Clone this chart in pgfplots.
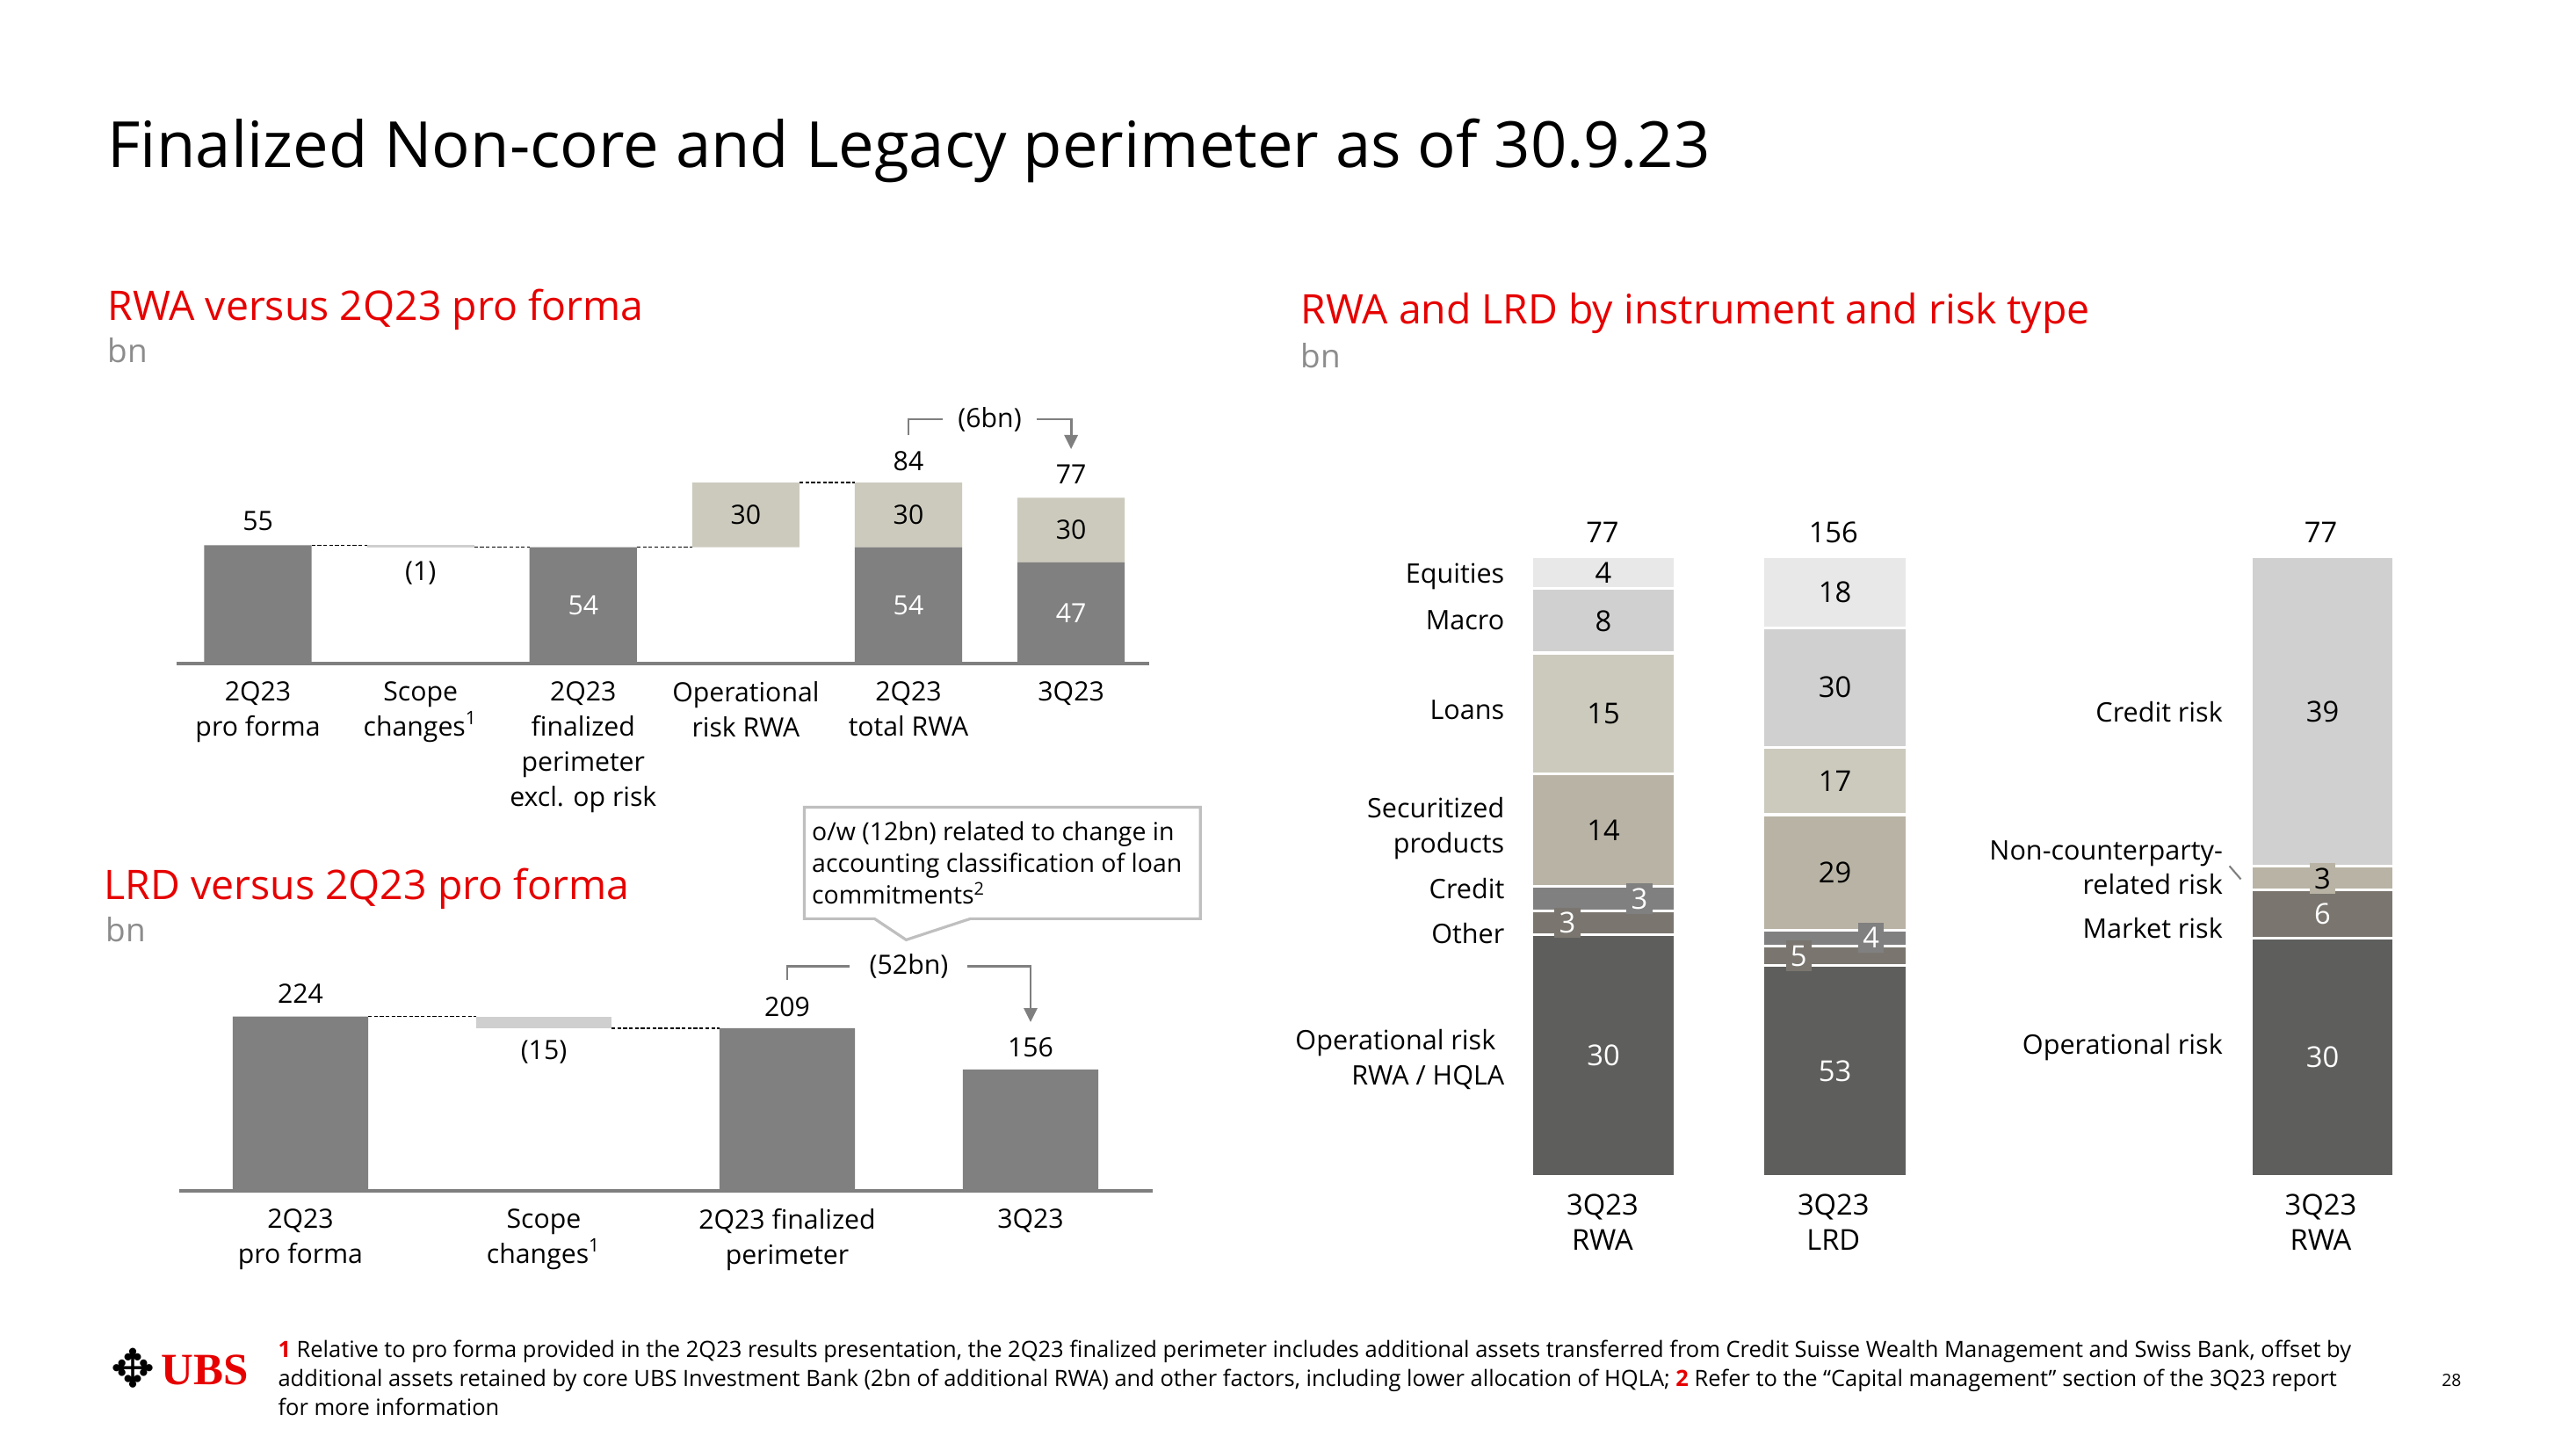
\documentclass[border=0pt]{standalone}
\usepackage{pgfplots}
\pgfplotsset{compat=1.18}
\usetikzlibrary{arrows.meta}
\usepackage{fontspec}
\setmainfont{Open Sans}
\newfontfamily\symfont{DejaVu Sans}
\newfontfamily\logofont{Liberation Serif}

\definecolor{ubsred}{HTML}{E60000}
\definecolor{bargray}{HTML}{808080}
\definecolor{beige}{HTML}{CCCABD}
\definecolor{scopegray}{HTML}{CFCFCF}
\definecolor{eqc}{HTML}{E8E8E8}
\definecolor{macroc}{HTML}{D0D0D0}
\definecolor{loansc}{HTML}{CCCABD}
\definecolor{securc}{HTML}{B8B3A4}
\definecolor{creditc}{HTML}{808080}
\definecolor{otherc}{HTML}{7A766F}
\definecolor{opc}{HTML}{5E5F5D}
\definecolor{bngray}{HTML}{8C8C8C}
\definecolor{linegray}{HTML}{7F7F7F}
\definecolor{boxgray}{HTML}{BFBFBF}

\newcommand{\lbl}{\fontsize{8.6}{11.4}\selectfont}
\newcommand{\rlbl}{\fontsize{9.3}{11.4}\selectfont}
\newcommand{\rtxt}{\fontsize{8.7}{11.4}\selectfont}

\pgfplotsset{
  wf/.style={anchor=south west, scale only axis, ymin=0, ybar stacked, clip=false,
    axis x line=bottom, axis y line=none, x axis line style={-, draw=linegray, line width=0.9pt},
    major tick length=0pt, enlargelimits=false,
    xticklabel style={align=center, anchor=north, inner sep=0pt, yshift=-0.2cm, font=\lbl}},
  rb/.style={anchor=south west, scale only axis, height=7.055cm, xmin=-0.5, xmax=0.5, ymin=0,
    hide axis, clip=false, ybar stacked, bar width=1},
  seg/.style={fill=#1, draw=white, line width=0.9pt},
}
\tikzset{
  dashc/.style={dash pattern=on 1.2pt off 0.7pt, line width=0.4pt},
  brk/.style={linegray, line width=0.8pt},
  brkarr/.style={linegray, line width=0.8pt, -{Triangle[length=1.6mm,width=1.5mm]}},
}

\begin{document}
\begin{tikzpicture}
\fill[white] (0,0) rectangle (29.32,16.5);
\path[use as bounding box] (0,0) rectangle (29.32,16.5);

% RWA versus 2Q23 pro forma
\begin{axis}[wf, at={(2.01cm,8.95cm)}, width=11.07cm, height=2.94cm,
  xmin=-0.5, xmax=5.48, ymax=120, bar width=0.66, xtick={0,...,5},
  xticklabels={{2Q23\\pro forma},{Scope\\changes\textsuperscript{1}},{2Q23\\finalized\\perimeter\\excl. op risk},{Operational\\risk RWA},{2Q23\\total RWA},{3Q23}},
  after end axis/.code={
    \draw[dashc] (axis cs:0.33,55) -- (axis cs:0.67,55);
    \draw[dashc] (axis cs:1.33,54) -- (axis cs:1.67,54);
    \draw[dashc] (axis cs:2.33,54) -- (axis cs:2.67,54);
    \draw[dashc] (axis cs:3.33,84) -- (axis cs:3.67,84);
    \node[font=\lbl] at (axis cs:0,66) {55};
    \node[font=\lbl] at (axis cs:1,42) {(1)};
    \node[font=\lbl, white] at (axis cs:2,27) {54};
    \node[font=\lbl] at (axis cs:3,69) {30};
    \node[font=\lbl] at (axis cs:4,94) {84};
    \node[font=\lbl] at (axis cs:4,69) {30};
    \node[font=\lbl, white] at (axis cs:4,27) {54};
    \node[font=\lbl] at (axis cs:5,88) {77};
    \node[font=\lbl] at (axis cs:5,62) {30};
    \node[font=\lbl, white] at (axis cs:5,23.5) {47};
    \draw[brk] (axis cs:4,106) |- (axis cs:4.21,113.5);
    \draw[brkarr] (axis cs:4.79,113.5) -- (axis cs:5,113.5) -- (axis cs:5,99.6);
    \node[font=\lbl] at (axis cs:4.5,113.5) {(6bn)};
  }]
\addplot[fill=none, draw=none, forget plot] coordinates {(0,0) (1,54) (2,0) (3,54) (4,0) (5,0)};
\addplot[fill=bargray, draw=none] coordinates {(0,55) (1,0) (2,54) (3,0) (4,54) (5,47)};
\addplot[fill=scopegray, draw=none] coordinates {(0,0) (1,1) (2,0) (3,0) (4,0) (5,0)};
\addplot[fill=beige, draw=none] coordinates {(0,0) (1,0) (2,0) (3,30) (4,30) (5,30)};
\end{axis}

% LRD versus 2Q23 pro forma
\begin{axis}[wf, at={(2.035cm,2.95cm)}, width=11.08cm, height=2.658cm,
  xmin=-0.5, xmax=3.5, ymax=300, bar width=0.556, xtick={0,...,3},
  xticklabels={{2Q23\\pro forma},{Scope\\changes\textsuperscript{1}},{2Q23 finalized\\perimeter},{3Q23}},
  after end axis/.code={
    \draw[dashc] (axis cs:0.278,224) -- (axis cs:0.722,224);
    \draw[dashc] (axis cs:1.278,209) -- (axis cs:1.722,209);
    \node[font=\lbl] at (axis cs:0,253) {224};
    \node[font=\lbl] at (axis cs:1,178) {(15)};
    \node[font=\lbl] at (axis cs:2,236.5) {209};
    \node[font=\lbl] at (axis cs:3,184) {156};
    \draw[brk] (axis cs:2,271) |- (axis cs:2.255,288.3);
    \draw[brkarr] (axis cs:2.74,288.3) -- (axis cs:3,288.3) -- (axis cs:3,216.7);
    \node[font=\lbl] at (axis cs:2.5,288.3) {(52bn)};
  }]
\addplot[fill=none, draw=none, forget plot] coordinates {(0,0) (1,209) (2,0) (3,0)};
\addplot[fill=bargray, draw=none] coordinates {(0,224) (1,0) (2,209) (3,156)};
\addplot[fill=scopegray, draw=none] coordinates {(0,0) (1,15) (2,0) (3,0)};
\end{axis}

% RWA by instrument
\begin{axis}[rb, at={(17.43cm,3.115cm)}, width=1.64cm, ymax=77,
  after end axis/.code={
    \node[font=\rlbl, white] at (axis cs:0,15) {30};
    \node[font=\rlbl, white, fill=otherc, inner sep=1.5pt] at (axis cs:-0.25,31.5) {3};
    \node[font=\rlbl, white, fill=creditc, inner sep=1.5pt] at (axis cs:0.25,34.5) {3};
    \node[font=\rlbl] at (axis cs:0,43) {14};
    \node[font=\rlbl] at (axis cs:0,57.5) {15};
    \node[font=\rlbl] at (axis cs:0,69) {8};
    \node[font=\rlbl] at (axis cs:0,75) {4};
  }]
\addplot[seg=opc] coordinates {(0,30)};
\addplot[seg=otherc] coordinates {(0,3)};
\addplot[seg=creditc] coordinates {(0,3)};
\addplot[seg=securc] coordinates {(0,14)};
\addplot[seg=loansc] coordinates {(0,15)};
\addplot[seg=macroc] coordinates {(0,8)};
\addplot[seg=eqc] coordinates {(0,4)};
\end{axis}

% LRD by instrument
\begin{axis}[rb, at={(20.06cm,3.115cm)}, width=1.65cm, ymax=156,
  after end axis/.code={
    \node[font=\rlbl, white] at (axis cs:0,26.5) {53};
    \node[font=\rlbl, white, fill=otherc, inner sep=1.5pt] at (axis cs:-0.25,55.5) {5};
    \node[font=\rlbl, white, fill=creditc, inner sep=1.5pt] at (axis cs:0.25,60) {4};
    \node[font=\rlbl] at (axis cs:0,76.5) {29};
    \node[font=\rlbl] at (axis cs:0,99.5) {17};
    \node[font=\rlbl] at (axis cs:0,123) {30};
    \node[font=\rlbl] at (axis cs:0,147) {18};
  }]
\addplot[seg=opc] coordinates {(0,53)};
\addplot[seg=otherc] coordinates {(0,5)};
\addplot[seg=creditc] coordinates {(0,4)};
\addplot[seg=securc] coordinates {(0,29)};
\addplot[seg=loansc] coordinates {(0,17)};
\addplot[seg=macroc] coordinates {(0,30)};
\addplot[seg=eqc] coordinates {(0,18)};
\end{axis}

% RWA by risk type
\begin{axis}[rb, at={(25.62cm,3.115cm)}, width=1.63cm, ymax=78,
  after end axis/.code={
    \node[font=\rlbl, white] at (axis cs:0,15) {30};
    \node[font=\rlbl, white] at (axis cs:0,33) {6};
    \node[font=\rlbl, fill=securc, inner sep=1.5pt] at (axis cs:0,37.5) {3};
    \node[font=\rlbl] at (axis cs:0,58.5) {39};
  }]
\addplot[seg=opc] coordinates {(0,30)};
\addplot[seg=otherc] coordinates {(0,6)};
\addplot[seg=securc] coordinates {(0,3)};
\addplot[seg=macroc] coordinates {(0,39)};
\end{axis}

\begin{scope}[x=0.01cm, y=-0.01cm, yshift=16.5cm, every node/.style={inner sep=0pt}]
\node[anchor=base west, font=\fontsize{20.6}{24}\selectfont] at (122,191) {Finalized Non-core and Legacy perimeter as of 30.9.23};
\node[anchor=base west, font=\fontsize{13.2}{16}\selectfont, text=ubsred] at (122,365) {RWA versus 2Q23 pro forma};
\node[anchor=base west, font=\fontsize{10.5}{12}\selectfont, text=bngray] at (122,413) {bn};
\node[anchor=base west, font=\fontsize{13.2}{16}\selectfont, text=ubsred] at (118,1024) {LRD versus 2Q23 pro forma};
\node[anchor=base west, font=\fontsize{10.5}{12}\selectfont, text=bngray] at (120,1072) {bn};
\node[anchor=base west, font=\fontsize{13.2}{16}\selectfont, text=ubsred] at (1481,369) {RWA and LRD by instrument and risk type};
\node[anchor=base west, font=\fontsize{10.5}{12}\selectfont, text=bngray] at (1481,419) {bn};

% callout
\draw[boxgray, line width=0.9pt, fill=white] (916,919) -- (1367,919) -- (1367,1046) -- (1105,1046) -- (1032,1070) -- (996,1046) -- (916,1046) -- cycle;
\begin{scope}[every node/.style={anchor=base west, inner sep=0pt, font=\fontsize{8.1}{10}\selectfont}]
\node at (924,957) {o/w (12bn) related to change in};
\node at (924,993) {accounting classification of loan};
\node at (924,1029) {commitments\textsuperscript{2}};
\end{scope}

% right-hand labels
\begin{scope}[every node/.style={anchor=base east, inner sep=0pt, font=\rtxt}]
\node at (1714,664) {Equities};
\node at (1714,717) {Macro};
\node at (1714,819) {Loans};
\node at (1714,931) {Securitized};
\node at (1714,971) {products};
\node at (1714,1023) {Credit};
\node at (1714,1074) {Other};
\node at (1704,1195) {Operational risk};
\node at (1714,1235) {RWA / HQLA};
\node at (2532,822) {Credit risk};
\node at (2532,979) {Non-counterparty-};
\node at (2532,1018) {related risk};
\node at (2532,1068) {Market risk};
\node at (2532,1200) {Operational risk};
\end{scope}
\draw[linegray, line width=0.6pt] (2539,986) -- (2552,1001);
\begin{scope}[every node/.style={anchor=base, inner sep=0pt, font=\rlbl}]
\node at (1825,618) {77};
\node at (2088,618) {156};
\node at (2643,618) {77};
\node at (1825,1383) {3Q23};
\node at (1825,1423) {RWA};
\node at (2088,1383) {3Q23};
\node at (2088,1423) {LRD};
\node at (2643,1383) {3Q23};
\node at (2643,1423) {RWA};
\end{scope}

% footer
\node[anchor=center, font=\symfont\fontsize{17}{17}\selectfont] at (152,1558) {✥};
\node[anchor=base west, font=\logofont\bfseries\fontsize{14.5}{16}\selectfont, text=ubsred] at (183,1576) {UBS};
\begin{scope}[every node/.style={anchor=base west, inner sep=0pt, font=\fontsize{7.25}{9}\selectfont}]
\node at (316,1545) {\textcolor{ubsred}{\textbf{1}} Relative to pro forma provided in the 2Q23 results presentation, the 2Q23 finalized perimeter includes additional assets transferred from Credit Suisse Wealth Management and Swiss Bank, offset by};
\node at (316,1578) {additional assets retained by core UBS Investment Bank (2bn of additional RWA) and other factors, including lower allocation of HQLA; \textcolor{ubsred}{\textbf{2}} Refer to the “Capital management” section of the 3Q23 report};
\node at (316,1611) {for more information};
\end{scope}
\node[anchor=base, font=\fontsize{5.5}{6}\selectfont] at (2792,1578) {28};
\end{scope}
\end{tikzpicture}
\end{document}
